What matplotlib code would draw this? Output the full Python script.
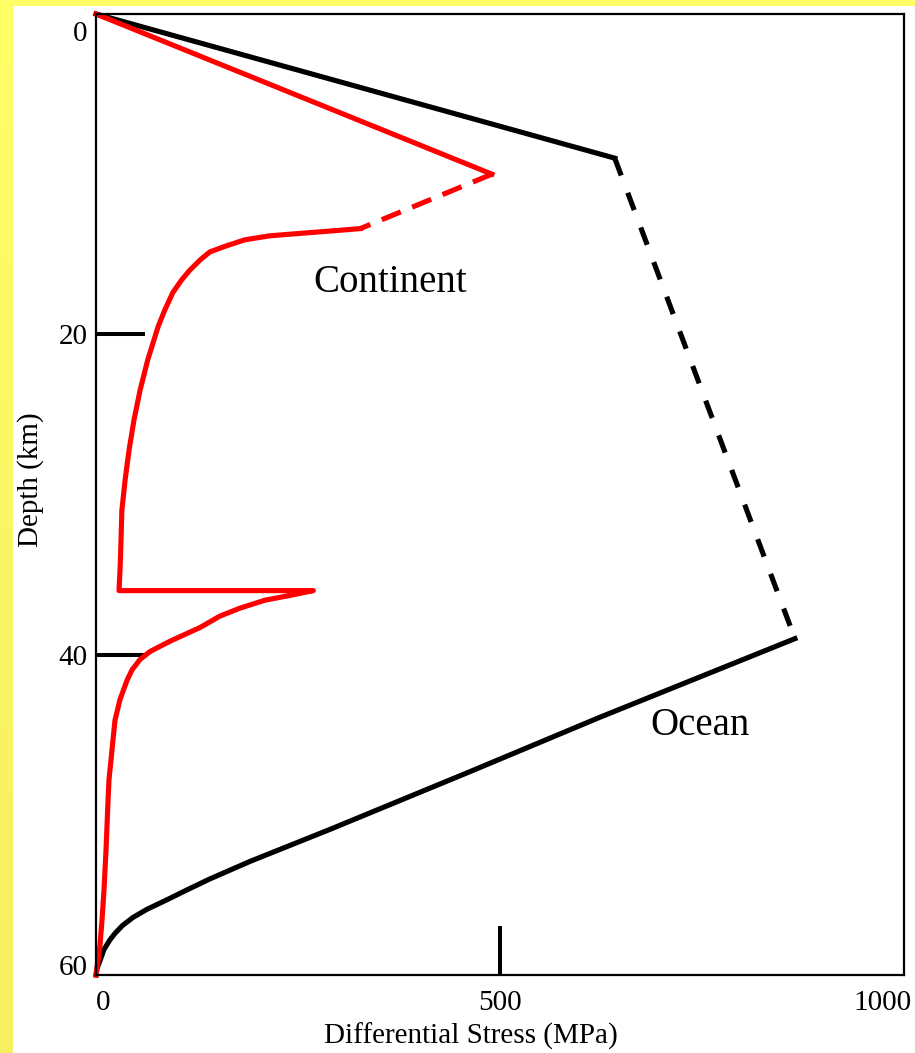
import matplotlib
matplotlib.use("Agg")
import matplotlib.pyplot as plt
import numpy as np
from matplotlib.colors import LinearSegmentedColormap
from matplotlib.patches import Rectangle
from matplotlib.ticker import FixedLocator, FixedFormatter
from matplotlib.transforms import ScaledTranslation

plt.rcParams["font.family"] = ["Liberation Serif", "DejaVu Serif"]

# Oceanic lithosphere strength envelope (stress in MPa, depth in km)
ocean_brittle_stress = [0, 642]
ocean_brittle_depth = [0, 9.0]
ocean_transition_stress = [642, 865]
ocean_transition_depth = [9.0, 39.0]
ocean_ductile_stress = [865, 624, 463, 290, 191, 141, 110, 88, 63, 46, 33, 23.5,
                        17.3, 9.9, 5.0, 1.2, 0]
ocean_ductile_depth = [39.0, 43.9, 47.3, 50.9, 52.9, 54.0, 54.75, 55.3, 55.9, 56.4,
                       56.9, 57.4, 57.8, 58.4, 59.1, 59.6, 60.0]

# Continental lithosphere strength envelope
cont_brittle_stress = [0, 490]
cont_brittle_depth = [0, 10.0]
cont_transition_stress = [490, 327]
cont_transition_depth = [10.0, 13.4]
cont_ductile_stress = [327, 290, 252, 215, 184, 160, 141, 129, 116, 106, 95, 85, 77,
                       64, 54.5, 47, 41, 36, 32, 31, 30, 28.5,
                       269, 240, 209, 178, 153, 129, 92, 67, 54.5, 44.6, 38.4, 29.7,
                       23.5, 19.8, 16.1, 14.9, 12.4, 9.9, 7.4, 5.0, 2.5, 0]
cont_ductile_depth = [13.4, 13.55, 13.7, 13.85, 14.1, 14.5, 14.85, 15.35, 16.0, 16.6,
                      17.4, 18.5, 19.5, 21.6, 23.5, 25.35, 27.2, 29.1, 31.0, 32.8,
                      34.4, 36.0,
                      36.0, 36.3, 36.6, 37.1, 37.6, 38.3, 39.15, 39.8, 40.3, 40.95,
                      41.6, 42.8, 44.1, 45.95, 47.8, 49.1, 52.2, 54.7, 56.6, 58.1,
                      59.1, 60.0]

x_major_ticks = [500]
x_major_labels = ["500"]
x_corner_ticks = [0, 1000]
x_corner_labels = ["0", "1000"]
y_major_ticks = [20, 40]
y_major_labels = ["20", "40"]
y_corner_ticks = [0, 60]
y_corner_labels = ["0", "60"]

W, H = 915, 1053
fig = plt.figure(figsize=(W / 100, H / 100), dpi=100)

# yellow slide background with a white panel
bg = fig.add_axes([0, 0, 1, 1], zorder=-5)
bg.axis("off")
cmap = LinearSegmentedColormap.from_list("slide", ["#FFFF66", "#F7EF62"])
bg.imshow(np.linspace(0, 1, 256).reshape(-1, 1), aspect="auto", cmap=cmap,
          extent=[0, 1, 0, 1])
bg.set_xlim(0, 1)
bg.set_ylim(0, 1)
bg.add_patch(Rectangle((13 / W, 0), 1, (H - 6) / H, facecolor="white",
                       edgecolor="none"))

ax = fig.add_axes([96 / W, 78 / H, 808 / W, 961 / H])
ax.set_xlim(0, 1000)
ax.set_ylim(60, 0)

lw = 3.7
style = dict(lw=lw, clip_on=False, solid_joinstyle="round")
ax.plot(ocean_brittle_stress, ocean_brittle_depth, color="black", **style)
ax.plot(ocean_transition_stress, ocean_transition_depth, color="black",
        linestyle=(0, (3.6, 3.6)), **style)
ax.plot(ocean_ductile_stress, ocean_ductile_depth, color="black", **style)

red = "#FF0000"
ax.plot(cont_brittle_stress, cont_brittle_depth, color=red, **style)
ax.plot(cont_transition_stress, cont_transition_depth, color=red,
        linestyle=(0, (4.0, 2.4)), **style)
ax.plot(cont_ductile_stress, cont_ductile_depth, color=red, **style)

ax.text(364, 17.35, "Continent", fontsize=28, ha="center", va="baseline")
ax.text(747, 45.0, "Ocean", fontsize=28, ha="center", va="baseline")

for s in ax.spines.values():
    s.set_linewidth(1.6)
    s.set_color("black")

ax.xaxis.set_major_locator(FixedLocator(x_major_ticks))
ax.xaxis.set_major_formatter(FixedFormatter(x_major_labels))
ax.xaxis.set_minor_locator(FixedLocator(x_corner_ticks))
ax.xaxis.set_minor_formatter(FixedFormatter(x_corner_labels))
ax.yaxis.set_major_locator(FixedLocator(y_major_ticks))
ax.yaxis.set_major_formatter(FixedFormatter(y_major_labels))
ax.yaxis.set_minor_locator(FixedLocator(y_corner_ticks))
ax.yaxis.set_minor_formatter(FixedFormatter(y_corner_labels))

ax.tick_params(which="major", direction="in", length=35, width=2.9,
               labelsize=21, color="black")
ax.tick_params(which="minor", length=0, labelsize=21)
ax.tick_params(axis="x", which="both", pad=11)
ax.tick_params(axis="y", which="both", pad=6)

# pull the corner labels inside the frame
xl = ax.xaxis.get_minorticklabels()
xl[0].set_horizontalalignment("left")
xl[1].set_horizontalalignment("right")
xl[1].set_transform(xl[1].get_transform()
                    + ScaledTranslation(0.08, 0, fig.dpi_scale_trans))
yl = ax.yaxis.get_minorticklabels()
yl[0].set_verticalalignment("top")
yl[0].set_transform(yl[0].get_transform()
                    + ScaledTranslation(0, -0.07, fig.dpi_scale_trans))
yl[1].set_verticalalignment("baseline")

ax.set_xlabel("Differential Stress (MPa)", fontsize=21)
ax.xaxis.set_label_coords(0.464, -0.050)
ax.set_ylabel("Depth (km)", fontsize=21)
ax.yaxis.set_label_coords(-0.064, 0.515)

fig.savefig("out.png", dpi=100)
